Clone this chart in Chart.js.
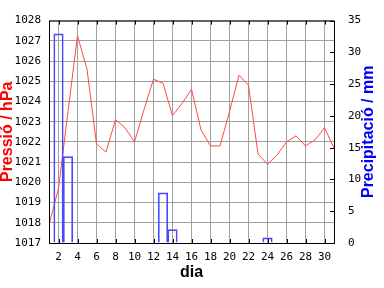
<!DOCTYPE html>
<html>
<head>
<meta charset="utf-8">
<script src="https://cdn.jsdelivr.net/npm/chart.js@4.4.1/dist/chart.umd.min.js"></script>
<style>
  html, body { margin: 0; padding: 0; background: #fff; }
</style>
</head>
<body>
<canvas id="chart" width="384" height="288"></canvas>
<script>
// dies del mes
const days = [1, 2, 3, 4, 5, 6, 7, 8, 9, 10, 11, 12, 13, 14, 15, 16, 17, 18, 19, 20, 21, 22, 23, 24, 25, 26, 27, 28, 29, 30, 31];
// pressió (hPa)
const pressure = [1017.9, 1019.7, 1023.5, 1027.25, 1025.6, 1021.9, 1021.5, 1023.1, 1022.7, 1022.0, 1023.6, 1025.1, 1024.9, 1023.3, 1023.9, 1024.6, 1022.6, 1021.8, 1021.8, 1023.5, 1025.3, 1024.8, 1021.4, 1020.9, 1021.35, 1022.0, 1022.3, 1021.8, 1022.1, 1022.7, 1021.7];
// precipitació (mm), només els dies amb pluja
const rainDays = [2, 3, 13, 14, 24];
const rain = [32.9, 13.6, 7.9, 2.1, 0.8];
// etiquetes de l'eix x
const dayTicks = [2, 4, 6, 8, 10, 12, 14, 16, 18, 20, 22, 24, 26, 28, 30];

const tickFont = { family: "DejaVu Sans Mono", size: 11 };
const titleFont = { family: "Liberation Sans", size: 16, weight: "bold", lineHeight: 0.9 };
const plainLabel = (value) => String(value);

// marc negre, marques cap a dins i títol de l'eix dret
const framePlugin = {
  id: "frame",
  afterDatasetsDraw(chart) {
    const { ctx, chartArea: a, scales } = chart;
    ctx.save();
    ctx.strokeStyle = "#000";
    ctx.lineWidth = 1;
    ctx.beginPath();
    dayTicks.forEach((d) => {
      const x = Math.round(scales.x.getPixelForValue(d)) + 0.5;
      ctx.moveTo(x, a.bottom);
      ctx.lineTo(x, a.bottom - 4);
      ctx.moveTo(x, a.top);
      ctx.lineTo(x, a.top + 4);
    });
    scales.y2.ticks.forEach((t) => {
      const y = Math.round(scales.y2.getPixelForValue(t.value)) + 0.5;
      ctx.moveTo(a.right, y);
      ctx.lineTo(a.right - 4, y);
    });
    ctx.stroke();
    ctx.strokeRect(a.left + 0.5, a.top + 0.5, a.right - a.left, a.bottom - a.top);

    ctx.fillStyle = "#0000ff";
    ctx.font = "bold 16px 'Liberation Sans'";
    ctx.textAlign = "center";
    ctx.textBaseline = "alphabetic";
    ctx.translate(373, (a.top + a.bottom) / 2);
    ctx.rotate(-Math.PI / 2);
    ctx.fillText("Precipitació / mm", 0, 0);
    ctx.restore();
  },
};

new Chart(document.getElementById("chart"), {
  type: "bar",
  data: {
    datasets: [
      {
        type: "bar",
        label: "Precipitació",
        data: rainDays.map((d, i) => ({ x: d, y: rain[i] })),
        xAxisID: "x",
        yAxisID: "y2",
        backgroundColor: "rgba(0,0,0,0)",
        borderColor: "#4848ff",
        borderWidth: 1,
        barPercentage: 1,
        categoryPercentage: 1,
        order: 0,
      },
      {
        type: "line",
        label: "Pressió",
        data: days.map((d, i) => ({ x: d, y: pressure[i] })),
        xAxisID: "x",
        yAxisID: "y",
        borderColor: "#ff4848",
        borderWidth: 1,
        pointRadius: 0,
        tension: 0,
        fill: false,
        order: 1,
      },
    ],
  },
  options: {
    responsive: false,
    devicePixelRatio: 1,
    animation: false,
    layout: { padding: { top: 14, left: 0, right: 0, bottom: 0 } },
    plugins: {
      legend: { display: false },
      tooltip: { enabled: false },
    },
    scales: {
      x: {
        type: "linear",
        position: "bottom",
        min: 1,
        max: 31,
        offset: false,
        afterBuildTicks: (axis) => {
          axis.ticks = dayTicks.map((v) => ({ value: v }));
        },
        afterFit: (axis) => {
          axis.height = 45;
        },
        ticks: { font: tickFont, color: "#000", padding: 8, maxRotation: 0, autoSkip: false, callback: plainLabel },
        grid: { color: "#a0a0a0", drawTicks: false, offset: false },
        border: { display: false },
        title: { display: true, text: "dia", color: "#000", font: titleFont, padding: { top: 0, bottom: 8 } },
      },
      y: {
        position: "left",
        min: 1017,
        max: 1028,
        afterFit: (axis) => {
          axis.width = 49;
        },
        ticks: { stepSize: 1, font: tickFont, color: "#000", padding: 8, callback: plainLabel },
        grid: { color: "#a0a0a0", drawTicks: false },
        border: { display: false },
        title: { display: true, text: "Pressió / hPa", color: "#ff0000", font: titleFont, padding: 0 },
      },
      y2: {
        position: "right",
        min: 0,
        max: 35,
        afterFit: (axis) => {
          axis.width = 50;
        },
        ticks: { stepSize: 5, font: tickFont, color: "#000", padding: 14, callback: plainLabel },
        grid: { drawOnChartArea: false, drawTicks: false },
        border: { display: false },
      },
    },
  },
  plugins: [framePlugin],
});
</script>
</body>
</html>
